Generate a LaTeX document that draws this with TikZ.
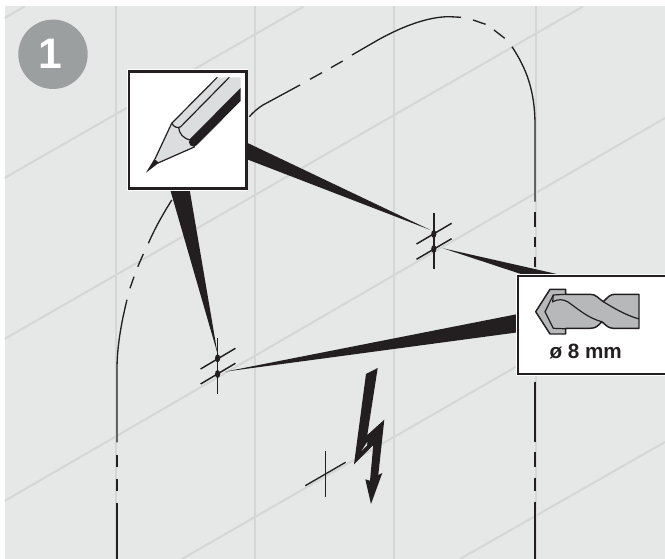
\documentclass[tikz,border=0pt]{standalone}
\usepackage{fontspec}
\setmainfont{Liberation Sans}
\usetikzlibrary{shapes.geometric}
\definecolor{bg}{HTML}{E6E8E7}
\definecolor{grid}{HTML}{D5D7D6}
\definecolor{ink}{HTML}{231F20}
\definecolor{badge}{HTML}{9C9F9F}
\definecolor{pencilgray}{HTML}{DCDDDE}
\definecolor{bitgray}{HTML}{B6B8BA}
\tikzset{
  gridline/.style={draw=grid,line width=1.5pt},
  outline/.style={draw=ink,line width=1pt},
  cross/.style={draw=ink,line width=1.1pt},
  spike/.style={fill=ink,draw=none},
  iconbox/.style={draw=ink,fill=white,inner sep=0pt,outer sep=0pt,anchor=north west,preaction={draw=white,line width=3pt}},
  dotmark/.style={ellipse,fill=ink,inner sep=0pt,minimum width=3.9pt,minimum height=6pt}
}
\begin{document}
\begin{tikzpicture}[x=0.75pt,y=-0.75pt]
\useasboundingbox (0,0) rectangle (665,559);
\fill[white] (0,0) rectangle (665,559);
\fill[bg] (4.5,6.5) rectangle (665,559);
% tile grid
\foreach \x in {115.5,254.5,394,535.5} \draw[gridline] (\x,6.5) -- (\x,559);
\begin{scope}
\clip (4.5,6.5) rectangle (665,559);
\draw[gridline] (4.5,18) -- (24.6,6.5);
\draw[gridline] (4.5,178) -- (303.6,6.5);
\draw[gridline] (4.5,339) -- (583,6.5);
\draw[gridline] (4.5,501) -- (665,118);
\draw[gridline] (182,559) -- (665,281);
\draw[gridline] (460,559) -- (665,442);
\end{scope}
% contour
\draw[outline] (117,559) -- (117,503);
\draw[outline] (117,490.7) -- (117,479);
\draw[outline] (117,467.3) -- (117,454.7);
\draw[outline] (117,442.3) -- (117,369) .. controls (117,345) and (122,320) .. (127,299.7);
\draw[outline] (130,288.3) -- (134,276.7);
\draw[outline] (137.8,266.7) -- (143.3,254);
\draw[outline] (148.4,243.3) .. controls (155,228) and (163,214) .. (171.8,200);
\draw[outline] (249.4,116.7) .. controls (253,112.5) and (258,108) .. (263,105) -- (300,85);
\draw[outline] (310,79.3) -- (322,72.7);
\draw[outline] (331,67.7) -- (342.7,61);
\draw[outline] (352,55) -- (375,41.7) .. controls (395,30) and (425,16.5) .. (449.5,16.7) -- (461,17.3);
\draw[outline] (473,20) -- (485.6,24.3);
\draw[outline] (494,30) -- (504.7,38.3);
\draw[outline] (512,46.7) .. controls (526,68) and (535,90) .. (535,125) -- (535,201.7);
\draw[outline] (535,211.7) -- (535,226.7);
\draw[outline] (535,237.3) -- (535,247.3);
\draw[outline] (535,256.7) -- (535,266.7);
\draw[outline] (535,382) -- (535,442.3);
\draw[outline] (535,452.3) -- (535,467.3);
\draw[outline] (535,478) -- (535,490.7);
\draw[outline] (535,501.7) -- (535,559);
% marks
\node[dotmark] (m1) at (433.8,234) {};
\node[dotmark] (m2) at (433.8,249) {};
\node[dotmark] (m3) at (217.6,358.3) {};
\node[dotmark] (m4) at (217.6,374) {};
% spikes
\coordinate (t1) at (430.4,230);
\coordinate (t2) at (217.6,354);
\coordinate (t3) at (443,248.3);
\coordinate (t4) at (224.8,371.7);
\fill[spike] (t1) -- (247,142.7) -- (247,159.3) -- cycle;
\fill[spike] (t2) -- (170,189) -- (189.5,189) -- cycle;
\fill[spike] (t3) -- (570,277) -- (530,277) -- cycle;
\fill[spike] (t4) -- (518,314) -- (518,332.3) -- cycle;
% crosses
\draw[cross] (433.8,213.3) -- (433.8,269.3);
\draw[cross] (416.5,244) -- (451.6,223.3);
\draw[cross] (416.5,259.3) -- (451.6,238.7);
\draw[cross] (217.6,338.3) -- (217.6,394.3);
\draw[cross] (200.6,369) -- (235.4,348.3);
\draw[cross] (200.6,384) -- (235.4,363.3);
\draw[outline] (325.3,451.3) -- (325.3,497.3);
\draw[outline] (305.3,485.7) -- (345.6,462.3);
% lightning
\fill[ink,line join=round] (366,374) -- (377.7,368) -- (367.3,435) -- (384.3,419.7) -- (378.3,475) -- (382.3,473) -- (371,504) -- (365.3,479.3) -- (370,480.7) -- (373.3,445) -- (354,464.3) -- cycle;
\fill[bg] (361.5,451) -- (367.3,442) -- (367,445.5) -- cycle;
% badge
\fill[badge] (53,54.3) circle (34.7);
\node[text=white,font=\bfseries\fontsize{32}{32}\selectfont] (one) at (50,54) {1};
% pencil box
\node[iconbox,line width=1.9pt,minimum width=88pt,minimum height=88pt] (pencil) at (129,71.3) {};
\fill[pencilgray] (171.7,123.3) -- (217.3,77.3) -- (240.7,77.3) -- (240.7,92) -- (195,146.7) -- (159,162.7) -- (154.3,159.3) -- cycle;
\draw[ink,line width=0.9pt] (155,159) -- (171.7,123.3) -- (217.3,77.3);
\draw[ink,line width=0.9pt] (158,163) -- (195,146.7);
\draw[ink,line width=0.9pt] (171.7,123.3) .. controls (174,127.5) and (178,128.5) .. (180.7,126.7) -- (229.3,77.3);
\draw[ink,line width=0.9pt] (178.7,127.7) .. controls (179,133) and (183,139) .. (191,140);
\fill[ink] (146,172.7) -- (154.3,159) -- (159,162.7) -- cycle;
\begin{scope}
\clip (180,80) rectangle (240.7,155);
\draw[ink,line width=6.9pt,line cap=round] (193.5,142) -- (245,90);
\end{scope}
% drill box
\node[iconbox,line width=1pt,minimum width=111.4pt,minimum height=73.5pt] (drill) at (518,276) {};
\draw[ink,fill=bitgray,line width=1.1pt,line join=round] (535.7,311.7) -- (550,289.3) -- (565.7,289.3) -- (565.7,294.3) -- (590,294.3) .. controls (596,294.3) and (598,298) .. (603.3,301.7) .. controls (608,297) and (610,294.3) .. (615,294.3) -- (639,294.3) -- (639,328.3) -- (613.3,328.3) .. controls (608,328.3) and (606,325) .. (601.7,321.7) .. controls (598,326) and (596,328.3) .. (590,328.3) -- (565.7,328.3) -- (565.7,334) -- (550,334) -- cycle;
\draw[ink,line width=0.9pt,line join=round] (565.7,328.8) -- (553.3,328.3) -- (545,311.7) -- (553.3,295) -- (565.7,294.3);
\draw[ink,line width=0.9pt] (553.3,295) -- (552.7,301.7) .. controls (558,299) and (563,299) .. (568,302) .. controls (578,309) and (588,318) .. (601.7,321.7);
\draw[ink,line width=0.9pt] (603.3,301.7) .. controls (612,307) and (625,315) .. (639,319);
\node[font=\bfseries\fontsize{15.5}{17}\selectfont,text=ink,inner sep=0pt] (lbl) at (585.7,351.5) {ø 8 mm};
\end{tikzpicture}
\end{document}
